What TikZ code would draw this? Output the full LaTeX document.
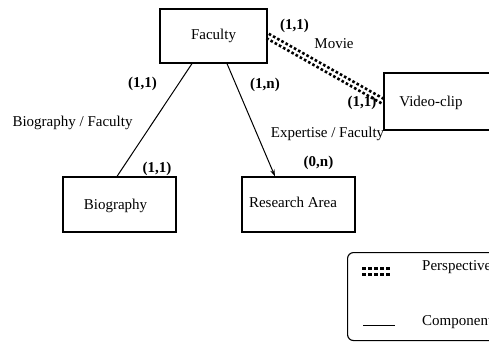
\documentclass[tikz,border=0pt]{standalone}
\usepackage{fontspec}
\setmainfont{Liberation Serif}
\usetikzlibrary{calc,arrows.meta}
\begin{document}
\begin{tikzpicture}[x=1pt,y=-1pt,
  font=\fontsize{15}{17}\selectfont,
  entity/.style={draw, line width=1.2pt, inner sep=0pt},
  card/.style={font=\fontsize{15}{17}\selectfont\bfseries, inner sep=0pt},
  rolelabel/.style={inner sep=0pt},
  component/.style={line width=1pt},
  perspective/.style={line width=2.6pt, dash pattern=on 2.6pt off 2.2pt},
  legendbox/.style={draw, line width=1.1pt, rounded corners=6pt}]
\useasboundingbox (0,0) rectangle (489,343);
\clip (0,0) rectangle (489,343);

% entities
\node[entity, minimum width=107, minimum height=54] (fac) at (213.5,36) {Faculty};
\node[entity, minimum width=113, minimum height=55] (bio) at (119.5,204.5) {};
\node (biotxt) at (115.5,206) {Biography};
\node[entity, minimum width=113, minimum height=55] (ra) at (298.5,204.5) {};
\node (ratxt) at (293,202) {Research Area};
\node[entity, minimum width=112, minimum height=57] (vid) at (440,101.5) {};
\node (vidtxt) at (431,103) {Video-clip};

% component links
\coordinate (bioA) at ([xshift=-21.5]fac.south);
\coordinate (bioB) at ([xshift=-2.5]bio.north);
\draw[component] (bioA) -- (bioB);
\coordinate (raA) at ([xshift=13.5]fac.south);
\coordinate (raB) at ([xshift=-23.5]ra.north);
\draw[component, -{Stealth[length=7pt,width=4.5pt]}] (raA) -- (raB);

% perspective link (two rows of dots)
\draw[perspective] ($(fac.east)!2.5pt!90:(vid.west)$) -- ($(vid.west)!2.5pt!-90:(fac.east)$);
\draw[perspective] ($(fac.east)!2.5pt!-90:(vid.west)$) -- ($(vid.west)!2.5pt!90:(fac.east)$);

% cardinalities and role names
\node[card] (c1) at (294.5,26) {(1,1)};
\node[rolelabel] (mv) at (334,44) {Movie};
\node[card] (c2) at (362,103) {(1,1)};
\node[card] (c3) at (265,85) {(1,n)};
\node[rolelabel] (ex) at (327.5,134) {Expertise / Faculty};
\node[card] (c4) at (318.5,163) {(0,n)};
\node[card] (c5) at (142.5,84) {(1,1)};
\node[rolelabel] (bf) at (72.5,123) {Biography / Faculty};
\node[card] (c6) at (157,169) {(1,1)};

% legend
\node[legendbox, minimum width=153, minimum height=88, anchor=north west] (leg) at (347,252) {};
\coordinate (pA) at (362,268.5);
\coordinate (pB) at (391,268.5);
\coordinate (pC) at (362,274);
\coordinate (pD) at (391,274);
\draw[line width=3pt, dash pattern=on 4pt off 2pt] (pA) -- (pB);
\draw[line width=3pt, dash pattern=on 4pt off 2pt] (pC) -- (pD);
\node[rolelabel, anchor=west] (lp) at (422,267) {Perspective};
\coordinate (cA) at (363,325);
\coordinate (cB) at (395,325);
\draw[component] (cA) -- (cB);
\node[rolelabel, anchor=west] (lc) at (422,322) {Component};
\end{tikzpicture}
\end{document}
